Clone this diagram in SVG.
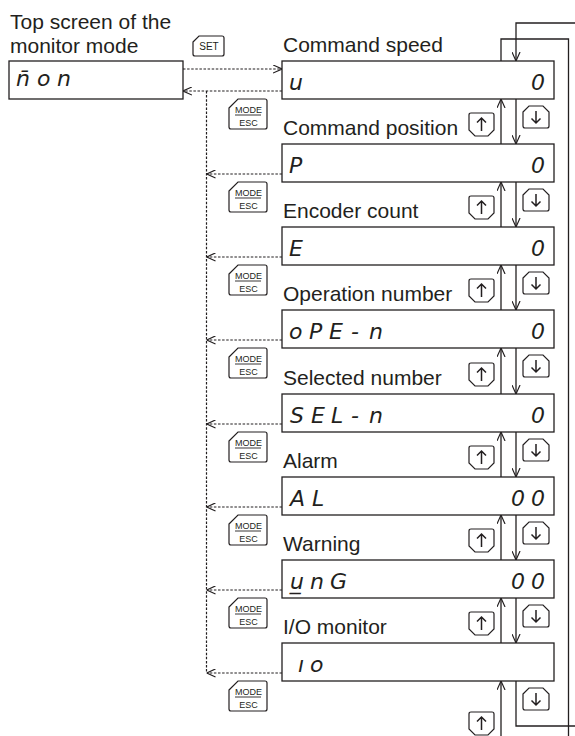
<svg xmlns="http://www.w3.org/2000/svg" width="575" height="736" viewBox="0 0 575 736">
<defs>
<style>
.lbl{font-family:"Liberation Sans",Arial,sans-serif;font-size:21px;fill:#231f20}
.seg{font-family:"DejaVu Sans",sans-serif;font-style:italic;font-size:22px;fill:#231f20}
.box{fill:#fff;stroke:#231f20;stroke-width:1.3}
.btn{fill:#fff;stroke:#231f20;stroke-width:1.2}
.btxt{font-family:"Liberation Sans",Arial,sans-serif;font-size:9px;fill:#231f20;text-anchor:middle}
.ln{fill:none;stroke:#231f20;stroke-width:1.3}
.dot{fill:none;stroke:#231f20;stroke-width:1.2;stroke-dasharray:2.5 1.6}
.ico{fill:none;stroke:#231f20;stroke-width:1.5}
</style>
<marker id="ah" viewBox="0 0 10 10" refX="10" refY="5" markerWidth="9" markerHeight="9" markerUnits="userSpaceOnUse" orient="auto">
<path d="M0,0.5 L10,5 L0,9.5" fill="none" stroke="#231f20" stroke-width="1.3" stroke-dasharray="none"/>
</marker>
<g id="modeBtn">
<path class="btn" d="M0,9 L9,0 L36,0 Q38,0 38,2 L38,28 Q38,30 36,30 L2,30 Q0,30 0,28 Z"/>
<text class="btxt" x="19.5" y="13.5">MODE</text>
<line x1="6" y1="16" x2="32" y2="16" stroke="#231f20" stroke-width="0.9"/>
<text class="btxt" x="19.5" y="26.5">ESC</text>
</g>
<g id="upBtn">
<path class="btn" d="M0,2 Q0,0 2,0 L23,0 Q25,0 25,2 L25,17 L19,23 L6,23 L0,17 Z"/>
<path class="ico" d="M12.5,18 V5 M8,9.5 L12.5,5 L17,9.5"/>
</g>
<g id="downBtn">
<path class="btn" d="M0,6 L6,0 L20,0 L26,6 L26,20 Q26,22 24,22 L2,22 Q0,22 0,20 Z"/>
<path class="ico" d="M13,5 V17 M8.5,12.5 L13,17 L17.5,12.5"/>
</g>
</defs>
<rect width="575" height="736" fill="#fff"/>

<g id="connectors">
<path class="dot" d="M183,69 H282" marker-end="url(#ah)"/>
<path class="dot" d="M282,91 H183" marker-end="url(#ah)"/>
<path class="dot" d="M206.5,91 V673"/>
<path class="dot" d="M282,174 H206.5" marker-end="url(#ah)"/>
<path class="dot" d="M282,257 H206.5" marker-end="url(#ah)"/>
<path class="dot" d="M282,340 H206.5" marker-end="url(#ah)"/>
<path class="dot" d="M282,424 H206.5" marker-end="url(#ah)"/>
<path class="dot" d="M282,507 H206.5" marker-end="url(#ah)"/>
<path class="dot" d="M282,590 H206.5" marker-end="url(#ah)"/>
<path class="dot" d="M282,673 H206.5" marker-end="url(#ah)"/>
<path class="ln" d="M575,23 H516 V61" marker-end="url(#ah)"/>
<path class="ln" d="M501,61 V39 H568.5 V736"/>
<path class="ln" d="M516,681 V726 H575"/>
<path class="ln" d="M501,736 V681" marker-end="url(#ah)"/>
<path class="ln" d="M501,144 V99" marker-end="url(#ah)"/>
<path class="ln" d="M516,99 V144" marker-end="url(#ah)"/>
<path class="ln" d="M501,227 V182" marker-end="url(#ah)"/>
<path class="ln" d="M516,182 V227" marker-end="url(#ah)"/>
<path class="ln" d="M501,310 V265" marker-end="url(#ah)"/>
<path class="ln" d="M516,265 V310" marker-end="url(#ah)"/>
<path class="ln" d="M501,394 V348" marker-end="url(#ah)"/>
<path class="ln" d="M516,348 V394" marker-end="url(#ah)"/>
<path class="ln" d="M501,477 V432" marker-end="url(#ah)"/>
<path class="ln" d="M516,432 V477" marker-end="url(#ah)"/>
<path class="ln" d="M501,560 V515" marker-end="url(#ah)"/>
<path class="ln" d="M516,515 V560" marker-end="url(#ah)"/>
<path class="ln" d="M501,643 V598" marker-end="url(#ah)"/>
<path class="ln" d="M516,598 V643" marker-end="url(#ah)"/>
</g>

<g id="title">
<text class="lbl" x="10" y="29">Top screen of the</text>
<text class="lbl" x="10" y="53">monitor mode</text>
</g>

<g id="node-mon">
<rect class="box" x="9" y="61" width="174" height="38"/>
<text class="seg" y="86"><tspan x="16">n̄</tspan><tspan x="37">o</tspan><tspan x="57">n</tspan></text>
</g>

<g id="btn-set">
<path class="btn" d="M193,42 L199,36 L222,36 Q224,36 224,38 L224,54 Q224,56 222,56 L195,56 Q193,56 193,54 Z"/>
<text class="btxt" x="209" y="50" style="font-size:10px">SET</text>
</g>

<g id="node-speed">
<text class="lbl" x="283" y="52">Command speed</text>
<rect class="box" x="282" y="61" width="272" height="38"/>
<text class="seg" x="289 531" y="90">u0</text>
</g>
<g id="node-position">
<text class="lbl" x="283" y="135">Command position</text>
<rect class="box" x="282" y="144" width="272" height="38"/>
<text class="seg" x="289 531" y="173">P0</text>
</g>
<g id="node-encoder">
<text class="lbl" x="283" y="218">Encoder count</text>
<rect class="box" x="282" y="227" width="272" height="38"/>
<text class="seg" x="289 531" y="256">E0</text>
</g>
<g id="node-operation">
<text class="lbl" x="283" y="301">Operation number</text>
<rect class="box" x="282" y="310" width="272" height="38"/>
<text class="seg" x="289 309 329 351 369 531" y="339">oPE-n0</text>
</g>
<g id="node-selected">
<text class="lbl" x="283" y="385">Selected number</text>
<rect class="box" x="282" y="394" width="272" height="38"/>
<text class="seg" x="290 311 331 351 369 531" y="423">SEL-n0</text>
</g>
<g id="node-alarm">
<text class="lbl" x="283" y="468">Alarm</text>
<rect class="box" x="282" y="477" width="272" height="38"/>
<text class="seg" x="290 312 511 531" y="506">AL00</text>
</g>
<g id="node-warning">
<text class="lbl" x="283" y="551">Warning</text>
<rect class="box" x="282" y="560" width="272" height="38"/>
<text class="seg" y="589"><tspan x="290">u̲</tspan><tspan x="310">n</tspan><tspan x="330">G</tspan><tspan x="511">0</tspan><tspan x="531">0</tspan></text>
</g>
<g id="node-io">
<text class="lbl" x="283" y="634">I/O monitor</text>
<rect class="box" x="282" y="643" width="272" height="38"/>
<text class="seg" x="298 310" y="672">ıo</text>
</g>

<g id="mode-buttons">
<use href="#modeBtn" x="229" y="99"/>
<use href="#modeBtn" x="229" y="182"/>
<use href="#modeBtn" x="229" y="265"/>
<use href="#modeBtn" x="229" y="348"/>
<use href="#modeBtn" x="229" y="432"/>
<use href="#modeBtn" x="229" y="515"/>
<use href="#modeBtn" x="229" y="598"/>
<use href="#modeBtn" x="229" y="681"/>
</g>
<g id="up-buttons">
<use href="#upBtn" x="469" y="113"/>
<use href="#upBtn" x="469" y="196"/>
<use href="#upBtn" x="469" y="279"/>
<use href="#upBtn" x="469" y="363"/>
<use href="#upBtn" x="469" y="446"/>
<use href="#upBtn" x="469" y="529"/>
<use href="#upBtn" x="469" y="612"/>
<use href="#upBtn" x="469" y="712"/>
</g>
<g id="down-buttons">
<use href="#downBtn" x="523" y="106"/>
<use href="#downBtn" x="523" y="189"/>
<use href="#downBtn" x="523" y="272"/>
<use href="#downBtn" x="523" y="355"/>
<use href="#downBtn" x="523" y="439"/>
<use href="#downBtn" x="523" y="522"/>
<use href="#downBtn" x="523" y="605"/>
<use href="#downBtn" x="523" y="688"/>
</g>
</svg>
